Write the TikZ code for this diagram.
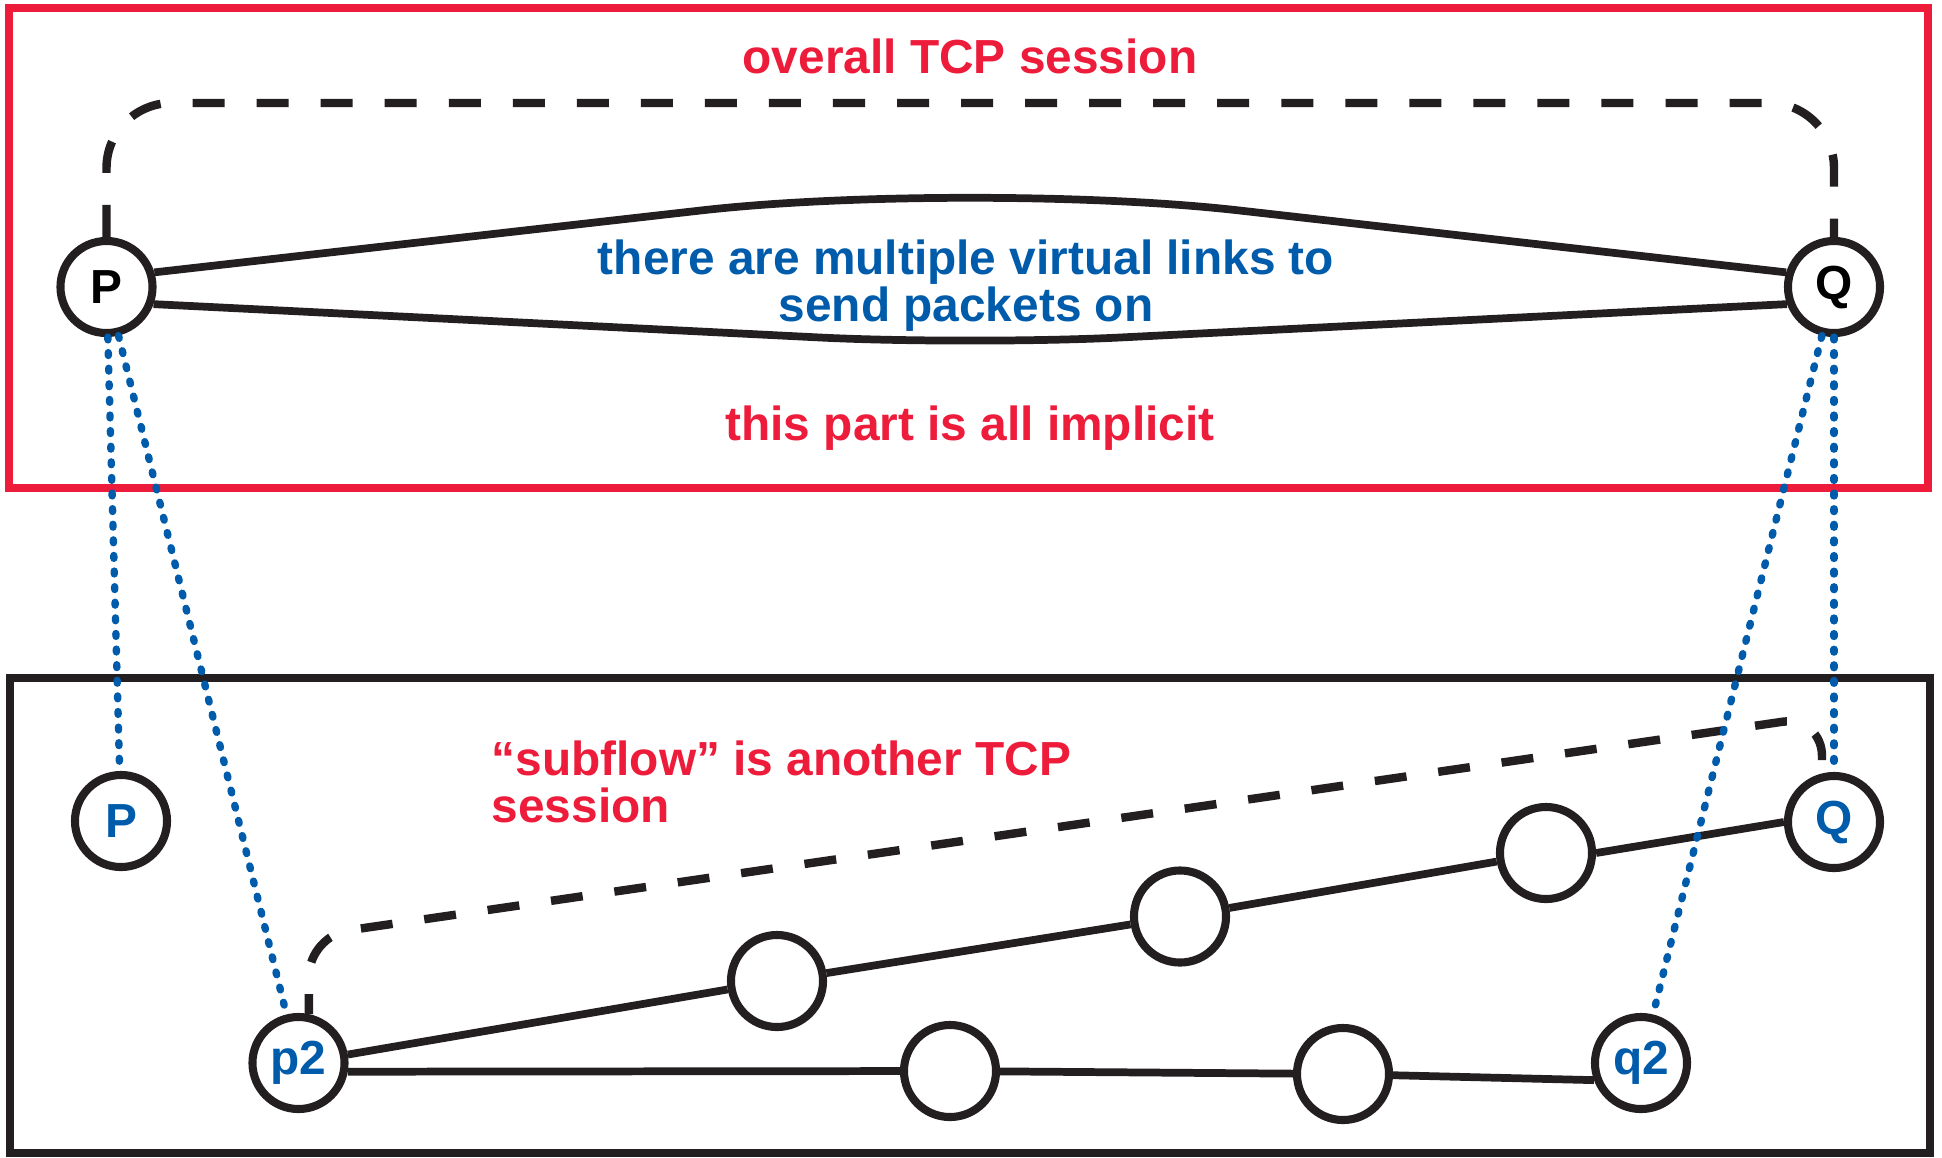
\documentclass[tikz,border=0pt]{standalone}
\usepackage{fontspec}
\setmainfont{Liberation Sans}
\usetikzlibrary{positioning}
\definecolor{tcpred}{RGB}{237,28,58}
\definecolor{tcpblue}{RGB}{0,91,170}
\definecolor{ink}{RGB}{35,31,32}

\begin{document}
\begin{tikzpicture}[
  x=0.01cm, y=-0.01cm,
  lbl/.style={font=\fontsize{13.6}{13.4}\selectfont\bfseries, inner sep=0pt},
  host/.style={circle, draw=ink, line width=2.3pt, fill=white, minimum size=0.92cm, inner sep=0pt, lbl},
  bluehost/.style={host, text=tcpblue},
  redtxt/.style={lbl, text=tcpred},
  bluetxt/.style={lbl, text=tcpblue},
  lnk/.style={ink, line width=2.2pt},
  sess/.style={ink, line width=2.4pt, dash pattern=on 0.32cm off 0.32cm, rounded corners=0.65cm},
  vlink/.style={tcpblue, line width=2.1pt, line cap=round, dash pattern=on 0.028cm off 0.128cm},
  boxline/.style={line width=2.2pt},
]
\useasboundingbox (0,0) rectangle (1942,1157);

\draw[boxline, draw=tcpred] (9,8) rectangle (1928,488);
\draw[boxline, draw=ink]    (10,678) rectangle (1930,1153);

\node[host]     (P)  at (106.5,287) {P};
\node[host]     (Q)  at (1834,287)  {Q};
\node[bluehost] (Pb) at (121,821)   {P};
\node[bluehost] (Qb) at (1834,822)  {Q};
\node[bluehost] (p2) at (298.5,1063) {p2};
\node[bluehost] (q2) at (1641,1063) {q2};
\node[host] (a1) at (777,981)    {};
\node[host] (a2) at (1180,916.5) {};
\node[host] (a3) at (1546,853)   {};
\node[host] (b1) at (950,1071)   {};
\node[host] (b2) at (1343,1074)  {};

\coordinate (crest)  at (970,180);
\coordinate (trough) at (970,345);
\draw[lnk, rounded corners=2.7cm] (P.17)  -- (crest)  -- (Q.163);
\draw[lnk, rounded corners=1.5cm] (P.-20) -- (trough) -- (Q.200);

\draw[lnk] (p2) -- (a1) -- (a2) -- (a3);
\draw[lnk] (a3.east) -- (Qb.west);
\draw[lnk] (p2.-10) -- (b1) -- (b2) -- (q2.200);

\coordinate (subend) at (1822,760);
\draw[sess] (P.north) -- (106.5,103) -- (1834,103) -- (Q.north);
\draw[sess, rounded corners=0.4cm, dash phase=0.12cm] (p2.78) -- (309,936) -- (1822,716) -- (subend);

\node[redtxt, anchor=base] (overall) at (970,73) {overall TCP session};
\node[bluetxt, align=center] (virt) at (966,286) {there are multiple virtual links to\\send packets on};
\node[redtxt, anchor=base] (implicit) at (970,440) {this part is all implicit};
\node[redtxt, align=left, anchor=north west] (subflow) at (491,740) {“subflow” is another TCP\\session};

\draw[vlink] (P) -- (Pb);
\draw[vlink] (P) -- (p2);
\draw[vlink] (Q) -- (Qb);
\draw[vlink] (Q) -- (q2);
\end{tikzpicture}
\end{document}
